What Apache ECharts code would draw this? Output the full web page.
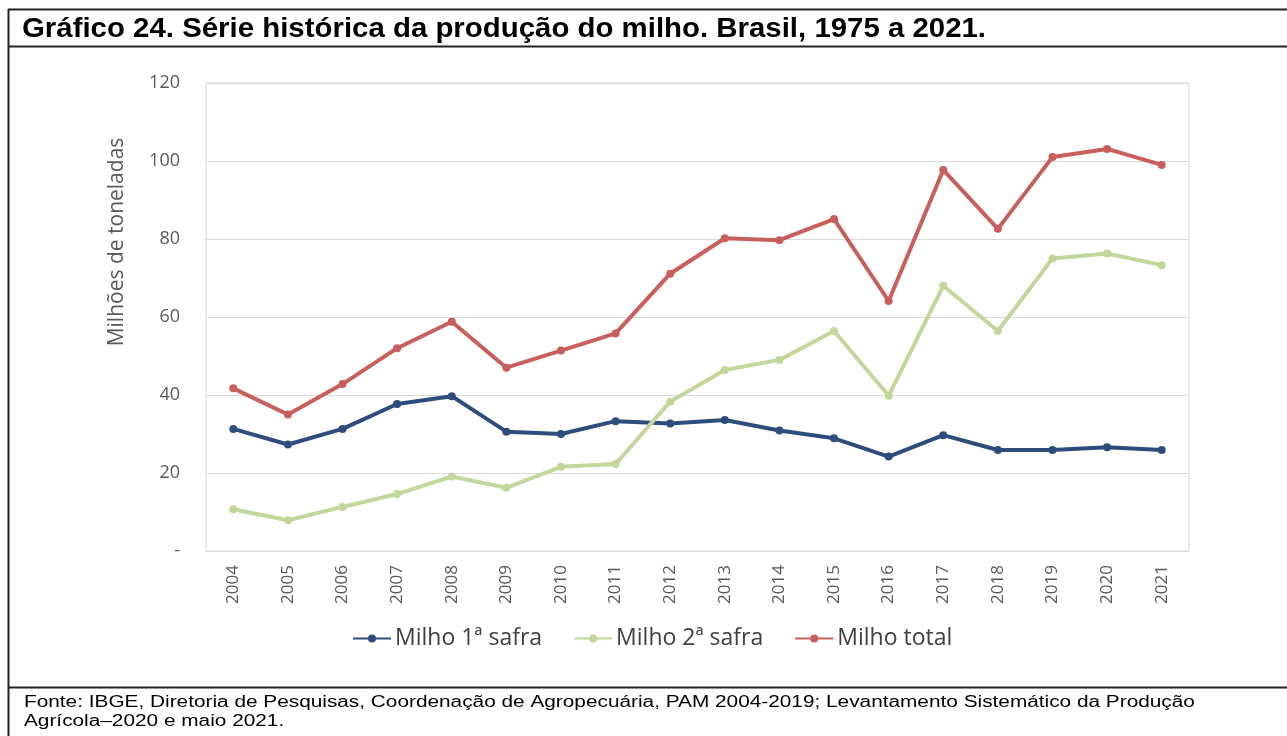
<!DOCTYPE html>
<html>
<head>
<meta charset="utf-8">
<script src="https://cdn.jsdelivr.net/npm/echarts@6/dist/echarts.min.js"></script>
<style>
html,body{margin:0;padding:0;background:#fff;}
#c{width:1287px;height:736px;}
</style>
</head>
<body>
<div id="c"></div>
<script>
var years = ['2004','2005','2006','2007','2008','2009','2010','2011','2012','2013','2014','2015','2016','2017','2018','2019','2020','2021'];
var milho1 = [31.3, 27.3, 31.3, 37.7, 39.7, 30.6, 30.0, 33.3, 32.7, 33.6, 30.9, 28.9, 24.2, 29.7, 25.9, 25.9, 26.6, 25.9];
var milho2 = [10.7, 7.9, 11.3, 14.6, 19.1, 16.2, 21.6, 22.3, 38.3, 46.4, 49.0, 56.4, 39.8, 68.0, 56.4, 75.0, 76.3, 73.3];
var milhoTotal = [41.7, 35.0, 42.8, 52.0, 58.8, 47.0, 51.4, 55.8, 71.1, 80.2, 79.7, 85.1, 64.1, 97.7, 82.6, 101.0, 103.1, 99.0];
var seriesNames = ['Milho 1ª safra', 'Milho 2ª safra', 'Milho total'];
var titleText = 'Gráfico 24. Série histórica da produção do milho. Brasil, 1975 a 2021.';
var yAxisName = 'Milhões de toneladas';
var sourceLine1 = 'Fonte: IBGE, Diretoria de Pesquisas, Coordenação de Agropecuária, PAM 2004-2019; Levantamento Sistemático da Produção';
var sourceLine2 = 'Agrícola–2020 e maio 2021.';

var chart = echarts.init(document.getElementById('c'), null, {renderer:'canvas'});
var colors = ['#2e4d7d', '#c3d69b', '#c95f5d'];
function mk(name, data, color){
  return {
    name: name, type: 'line', data: data, symbol: 'circle', symbolSize: 8,
    lineStyle: {color: color, width: 4}, itemStyle: {color: color},
    emphasis: {disabled: true}, animation: false
  };
}
chart.setOption({
  animation: false,
  color: colors,
  grid: {left: 206, right: 98, top: 83, bottom: 185, containLabel: false,
         show: true, borderColor: '#d9d9d9', borderWidth: 1},
  legend: {
    left: 347, top: 622, itemWidth: 38, itemHeight: 10, itemGap: 31,
    textStyle: {fontFamily: 'Open Sans', fontSize: 23, color: '#404040', padding: [0,0,0,-1]},
    data: seriesNames
  },
  xAxis: {
    type: 'category', data: years, boundaryGap: true,
    axisLine: {lineStyle: {color: '#d9d9d9'}},
    axisTick: {show: false},
    axisLabel: {rotate: 90, margin: 14, fontFamily: 'Open Sans', fontSize: 17, color: '#595959'}
  },
  yAxis: {
    type: 'value', min: 0, max: 120, interval: 20,
    axisLine: {show: false}, axisTick: {show: false},
    splitLine: {lineStyle: {color: '#d9d9d9', width: 1}},
    axisLabel: {margin: 26, fontFamily: 'Open Sans', fontSize: 18, color: '#595959',
      formatter: function(v){ return v === 0 ? '-' : String(v); }}
  },
  graphic: [
    {type:'line', shape:{x1:8,y1:9.5,x2:1287,y2:9.5}, style:{stroke:'#222', lineWidth:2}},
    {type:'line', shape:{x1:8,y1:46.5,x2:1287,y2:46.5}, style:{stroke:'#222', lineWidth:2}},
    {type:'line', shape:{x1:8,y1:687.5,x2:1287,y2:687.5}, style:{stroke:'#222', lineWidth:2}},
    {type:'line', shape:{x1:8.5,y1:9,x2:8.5,y2:736}, style:{stroke:'#222', lineWidth:2}},
    {type:'text', x: 22, y: 15, scaleX: 1.05, style:{text: titleText, verticalAlign:'top', font: 'bold 28px "Liberation Sans", Arial, sans-serif', fill:'#000'}},
    {type:'text', x: 117, y: 242, rotation: Math.PI/2, style:{text: yAxisName, align:'center', verticalAlign:'middle', font: '21px "Open Sans", sans-serif', fill:'#595959'}},
    {type:'text', x: 24, y: 695, scaleX: 1.3, style:{text: sourceLine1, verticalAlign:'top', font: '16px "Liberation Sans", Arial, sans-serif', fill:'#000'}},
    {type:'text', x: 24, y: 714, scaleX: 1.3, style:{text: sourceLine2, verticalAlign:'top', font: '16px "Liberation Sans", Arial, sans-serif', fill:'#000'}}
  ],
  series: [
    mk(seriesNames[0], milho1, colors[0]),
    mk(seriesNames[1], milho2, colors[1]),
    mk(seriesNames[2], milhoTotal, colors[2])
  ]
});
</script>
</body>
</html>
